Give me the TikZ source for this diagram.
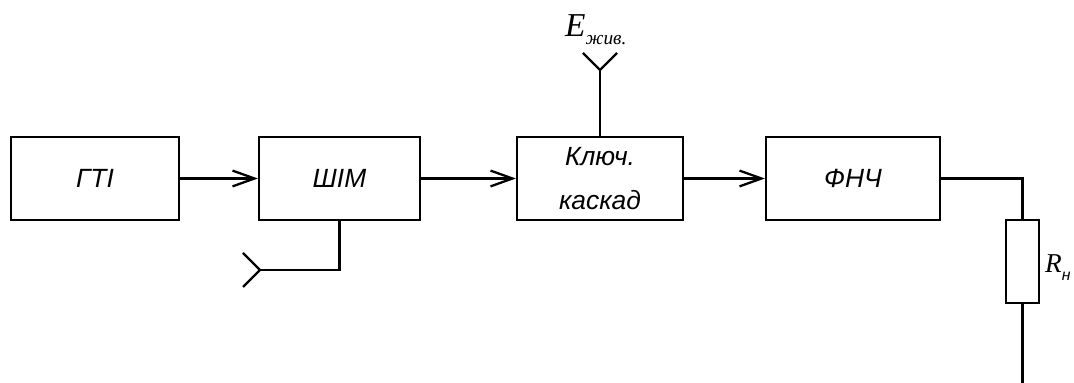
\documentclass[tikz,border=0pt]{standalone}
\usepackage{fontspec}
\setmainfont{Liberation Serif}
\newfontfamily\gostfont{Liberation Sans}
\usetikzlibrary{arrows.meta, positioning}

\begin{document}
\begin{tikzpicture}[
  line width=1.3pt,
  blok/.style={draw, rectangle, minimum height=1.66cm, inner sep=2pt, align=center,
    font=\gostfont\itshape\fontsize{15}{25}\selectfont},
  strilka/.style={-{Straight Barb[length=12.5pt, width=9pt]}},
  pidpys/.style={inner sep=0pt, anchor=base west},
]
  \useasboundingbox (0,0) rectangle (21.48,7.66);

  % Blocks of the chain
  \node[blok, minimum width=3.36cm] (gti)   at (1.90,4.09)  {ГТІ};
  \node[blok, minimum width=3.22cm] (shim)  at (6.79,4.09)  {ШІМ};
  \node[blok, minimum width=3.32cm] (kluch) at (12.00,4.09) {Ключ.\\каскад};
  \node[blok, minimum width=3.48cm] (fnch)  at (17.06,4.09) {ФНЧ};

  % Load resistor
  \node[draw, rectangle, minimum width=0.66cm, minimum height=1.66cm] (rn) at (20.45,2.43) {};
  \coordinate (niz) at (20.45,0);

  % Signal arrows
  \draw[strilka] (gti) -- (shim);
  \draw[strilka] (shim) -- (kluch);
  \draw[strilka] (kluch) -- (fnch);

  % Output to the load
  \draw (fnch.east) -| (rn.north);
  \draw (rn.south) -- (niz);

  % Control input of the PWM
  \coordinate (vhid) at (5.20,2.26);
  \draw (shim.south) |- (vhid);
  \draw (vhid) -- ++(-0.34,0.34);
  \draw (vhid) -- ++(-0.34,-0.34);

  % Supply input
  \coordinate (zhyv) at (12.00,6.26);
  \draw (kluch.north) -- (zhyv);
  \draw (zhyv) -- ++(-0.34,0.34);
  \draw (zhyv) -- ++(0.34,0.34);

  % Labels
  \node[pidpys] (elabel) at (11.28,6.92)
    {\fontsize{19}{19}\selectfont\itshape E\raisebox{-4.5pt}{\fontsize{11}{11}\selectfont жив.}};
  \node[pidpys] (rlabel) at (20.88,2.20)
    {\fontsize{15.5}{15.5}\selectfont\itshape R\raisebox{-4pt}{\gostfont\fontsize{9}{9}\selectfont н}};

\end{tikzpicture}
\end{document}
